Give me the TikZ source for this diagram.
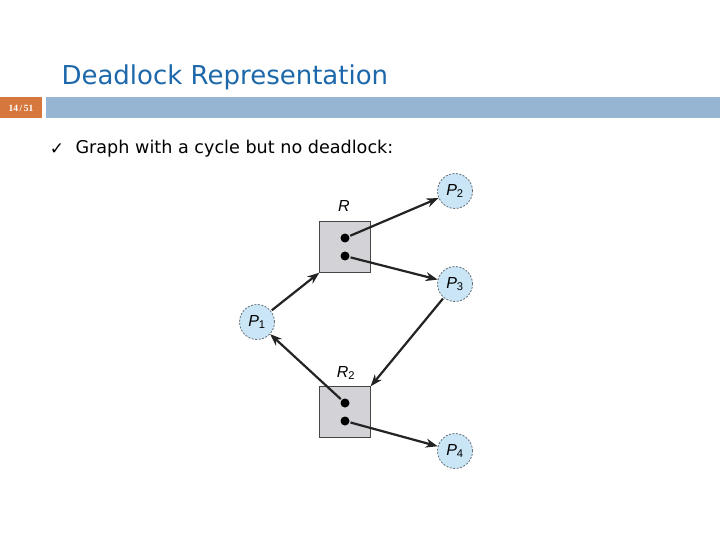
\documentclass[tikz,border=0pt]{standalone}
\usepackage{fontspec}
\setmainfont{DejaVu Sans}
\newfontfamily\helv{Liberation Sans}
\newfontfamily\serifpag{Liberation Serif}
\usetikzlibrary{positioning,arrows.meta}
\definecolor{dltitulo}{RGB}{28,104,170}
\definecolor{dllaranja}{RGB}{214,120,62}
\definecolor{dlbarra}{RGB}{150,181,210}
\definecolor{dlcinza}{RGB}{211,211,215}
\definecolor{dlborda}{RGB}{70,70,70}
\definecolor{dlcirculo}{RGB}{100,110,120}
\definecolor{dlazulclaro}{RGB}{202,230,246}
\definecolor{dlseta}{RGB}{35,35,35}
\newcommand{\dlsub}[1]{{\upshape\textsubscript{#1}}}
\tikzset{
  dlprocesso/.style={circle, draw=dlcirculo, dash pattern=on 2pt off 1.5pt, line width=0.8pt, fill=dlazulclaro,
                     minimum size=35pt, inner sep=0pt, font=\helv\itshape\fontsize{16}{16}\selectfont},
  dlrecurso/.style={draw=dlborda, fill=dlcinza, minimum size=51pt, inner sep=0pt},
  dlponto/.style={circle, fill=black, minimum size=9pt, inner sep=0pt},
  dlrotulo/.style={font=\helv\itshape\fontsize{16}{16}\selectfont},
  dlsetagr/.style={-{Stealth[length=12pt, width=9pt]}, line width=2.2pt, draw=dlseta, shorten <=1pt},
}
\begin{document}
\begin{tikzpicture}[x=1pt, y=-1pt]
    \useasboundingbox (0,0) rectangle (720,540);
    % cabecalho
    \node[anchor=west, text=dltitulo, font=\fontsize{26}{26}\selectfont] (titulo) at (58,77) {Deadlock Representation};
    \fill[dllaranja] (0,97) rectangle (42,118);
    \fill[dlbarra] (46,97) rectangle (720,118);
    \node[text=white, font=\serifpag\bfseries\fontsize{9.5}{9.5}\selectfont] (pagina) at (21,108) {14\,/\,51};
    \node[anchor=west, font=\fontsize{17.6}{17.6}\selectfont] (item) at (72,149) {Graph with a cycle but no deadlock:};
    \node[font=\fontsize{17}{17}\selectfont] (marca) at (57,149) {✓};
    % recursos
    \node[dlrecurso] (r1) at (345,247) {};
    \node[dlrecurso] (r2) at (345,412) {};
    \node[dlrotulo] (r1rot) at (344,206) {R};
    \node[dlrotulo] (r2rot) at (346,373) {R\dlsub{2}};
    \node[dlponto] (r1a) at (345,238) {};
    \node[dlponto] (r1b) at (345,256) {};
    \node[dlponto] (r2a) at (345,403) {};
    \node[dlponto] (r2b) at (345,421) {};
    % processos
    \node[dlprocesso] (p2) at (455,191) {P\dlsub{2}};
    \node[dlprocesso] (p3) at (455,284) {P\dlsub{3}};
    \node[dlprocesso] (p1) at (257,322) {P\dlsub{1}};
    \node[dlprocesso] (p4) at (455,451) {P\dlsub{4}};
    % arestas
    \draw[dlsetagr] (p1) -- (r1.south west);
    \draw[dlsetagr] (r1a) -- (p2);
    \draw[dlsetagr] (r1b) -- (p3);
    \draw[dlsetagr] (p3) -- (r2.north east);
    \draw[dlsetagr] (r2a) -- (p1);
    \draw[dlsetagr] (r2b) -- (p4);
\end{tikzpicture}
\end{document}
